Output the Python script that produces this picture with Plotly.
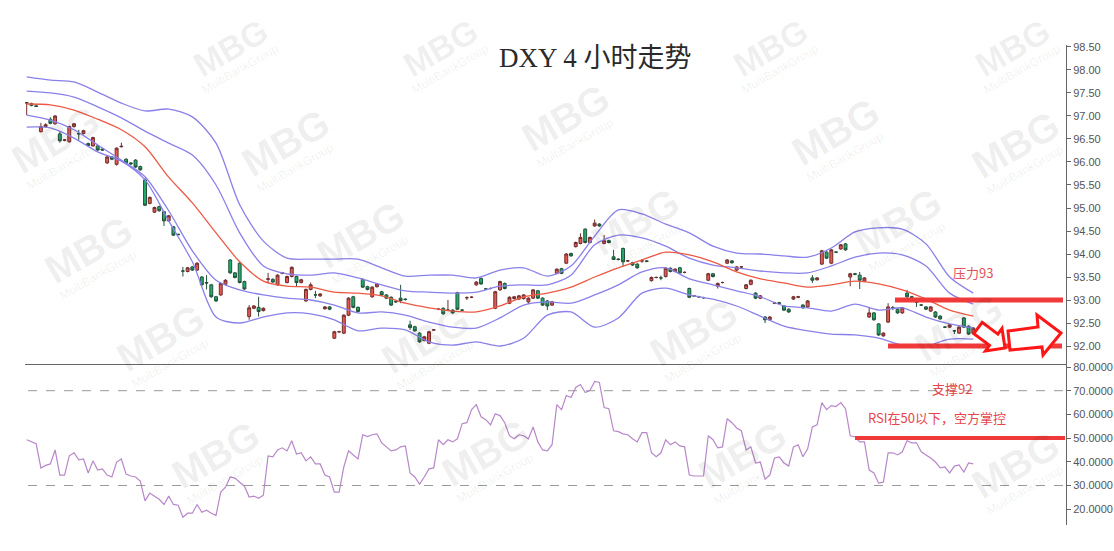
import plotly.graph_objects as go

# ---------------- data ----------------
title_text = "DXY 4 小时走势"

opens = [
    97.28, 97.27, 97.22, 96.66, 96.77, 96.93, 96.83, 96.61, 96.47, 96.44,
    96.77, 96.62, 96.62, 96.40, 96.35, 96.35, 96.28, 95.98, 96.11, 95.95,
    96.33, 96.06, 95.98, 96.04, 95.90, 95.61, 95.10, 94.91, 95.03, 94.92,
    94.72, 94.59, 94.43, 93.63, 93.62, 93.72, 93.65, 93.50, 93.38, 93.33,
    93.07, 93.11, 93.34, 93.87, 93.59, 93.80, 93.40, 92.64, 92.82, 92.84,
    92.77, 93.45, 93.45, 93.33, 93.58, 93.38, 93.51, 93.51, 93.38, 92.98,
    93.23, 93.11, 93.09, 92.81, 92.85, 92.17, 92.31, 92.28, 92.67, 93.07,
    92.84, 93.45, 93.29, 93.07, 93.29, 93.18, 93.11, 93.06, 92.97, 93.04,
    93.02, 92.46, 92.42, 92.28, 92.12, 92.06, 92.35, 92.80, 92.82, 92.78,
    92.78, 93.16, 92.78, 93.05, 93.06, 93.33, 93.47, 93.24, 93.25, 92.82,
    93.22, 93.36, 92.93, 93.03, 93.02, 93.03, 92.96, 93.04, 93.20, 93.04,
    92.98, 92.89, 93.58, 93.68, 93.80, 94.01, 94.16, 94.23, 94.54, 94.25,
    94.61, 94.65, 94.23, 94.29, 93.94, 93.89, 94.12, 93.85, 93.81, 93.78,
    93.85, 93.85, 93.42, 93.49, 93.48, 93.51, 93.69, 93.62, 93.70, 93.60,
    93.25, 93.09, 93.07, 93.05, 93.43, 93.57, 93.30, 93.38, 93.80, 93.85,
    93.65, 93.72, 93.25, 93.34, 93.15, 93.04, 92.63, 92.57, 92.93, 92.94,
    92.87, 92.80, 93.02, 93.06, 92.89, 92.85, 93.48, 93.44, 93.78, 94.04,
    93.80, 94.04, 94.11, 94.22, 93.50, 93.57, 93.54, 93.41, 92.63, 92.72,
    92.48, 92.22, 92.52, 92.83, 92.80, 92.72, 93.15, 93.07, 92.96, 92.89,
    92.85, 92.76, 92.74, 92.65, 92.41, 92.41, 92.33, 92.28, 92.61, 92.43,
    92.28,
]
highs = [
    97.30, 97.29, 97.23, 96.85, 96.84, 96.97, 97.02, 96.67, 96.50, 96.79,
    96.85, 96.70, 96.70, 96.42, 96.55, 96.37, 96.30, 96.13, 96.13, 96.32,
    96.42, 96.08, 96.00, 96.06, 95.92, 95.65, 95.25, 95.03, 95.05, 94.94,
    94.85, 94.61, 94.44, 93.72, 93.72, 93.74, 93.82, 93.52, 93.54, 93.35,
    93.09, 93.38, 93.45, 93.89, 93.61, 93.82, 93.42, 92.89, 92.89, 93.07,
    92.84, 93.59, 93.47, 93.56, 93.61, 93.53, 93.73, 93.53, 93.46, 93.25,
    93.38, 93.20, 93.15, 92.87, 92.87, 92.33, 92.33, 92.69, 93.06, 93.09,
    92.86, 93.47, 93.31, 93.30, 93.37, 93.20, 93.13, 93.08, 92.99, 93.33,
    93.04, 92.55, 92.44, 92.30, 92.22, 92.33, 92.37, 92.82, 92.84, 93.00,
    92.80, 93.18, 92.80, 93.08, 93.08, 93.41, 93.49, 93.26, 93.27, 93.20,
    93.42, 93.38, 93.08, 93.09, 93.11, 93.13, 93.06, 93.24, 93.22, 93.06,
    93.00, 92.98, 93.69, 93.70, 94.02, 94.03, 94.27, 94.45, 94.56, 94.38,
    94.75, 94.67, 94.41, 94.31, 94.09, 93.91, 94.14, 93.87, 93.83, 93.80,
    93.89, 93.87, 93.51, 93.51, 93.53, 93.71, 93.71, 93.69, 93.72, 93.62,
    93.27, 93.11, 93.09, 93.07, 93.59, 93.59, 93.38, 93.40, 93.89, 93.87,
    93.74, 93.74, 93.35, 93.45, 93.17, 93.11, 92.65, 92.65, 92.96, 92.96,
    92.89, 92.82, 93.09, 93.09, 92.91, 93.00, 93.54, 93.50, 94.09, 94.06,
    94.11, 94.06, 94.22, 94.24, 93.59, 93.59, 93.61, 93.50, 92.85, 92.74,
    92.50, 92.30, 92.93, 92.87, 92.82, 92.85, 93.22, 93.09, 93.00, 92.91,
    92.87, 92.87, 92.76, 92.67, 92.43, 92.48, 92.35, 92.43, 92.63, 92.45,
    92.41,
]
lows = [
    97.02, 97.21, 97.20, 96.64, 96.75, 96.82, 96.81, 96.42, 96.45, 96.42,
    96.75, 96.48, 96.60, 96.34, 96.33, 96.24, 96.24, 95.96, 96.04, 95.92,
    96.32, 95.96, 95.94, 95.87, 95.81, 95.04, 95.08, 94.89, 94.92, 94.61,
    94.70, 94.39, 94.41, 93.51, 93.60, 93.63, 93.63, 93.31, 93.23, 93.05,
    92.96, 93.09, 93.32, 93.57, 93.47, 93.36, 93.22, 92.57, 92.80, 92.64,
    92.75, 93.36, 93.37, 93.31, 93.56, 93.36, 93.49, 93.30, 93.36, 92.96,
    93.21, 93.04, 93.07, 92.79, 92.78, 92.15, 92.29, 92.26, 92.65, 92.82,
    92.73, 93.26, 93.21, 93.05, 93.27, 93.09, 93.02, 92.87, 92.94, 92.93,
    92.99, 92.35, 92.31, 92.07, 92.10, 92.04, 92.33, 92.78, 92.68, 92.76,
    92.70, 92.78, 92.76, 93.00, 93.04, 93.31, 93.33, 93.22, 93.23, 92.80,
    93.20, 93.23, 92.91, 93.01, 93.00, 93.01, 92.91, 93.02, 93.02, 92.87,
    92.78, 92.87, 93.56, 93.56, 93.78, 93.94, 94.14, 94.21, 94.23, 94.23,
    94.59, 94.59, 94.21, 94.23, 93.87, 93.86, 93.72, 93.83, 93.74, 93.68,
    93.81, 93.82, 93.40, 93.47, 93.43, 93.49, 93.60, 93.60, 93.57, 93.58,
    93.04, 93.07, 93.05, 93.03, 93.41, 93.49, 93.25, 93.36, 93.78, 93.79,
    93.63, 93.70, 93.23, 93.32, 93.02, 93.02, 92.50, 92.55, 92.91, 92.91,
    92.76, 92.72, 93.00, 93.04, 92.81, 92.83, 93.37, 93.42, 93.76, 93.89,
    93.78, 94.02, 94.09, 94.07, 93.30, 93.54, 93.24, 93.39, 92.61, 92.55,
    92.22, 92.20, 92.50, 92.78, 92.70, 92.70, 93.05, 93.04, 92.85, 92.87,
    92.78, 92.74, 92.61, 92.57, 92.39, 92.39, 92.26, 92.26, 92.39, 92.24,
    92.26,
]
closes = [
    97.29, 97.23, 97.21, 96.77, 96.81, 96.84, 97.00, 96.46, 96.48, 96.77,
    96.83, 96.61, 96.68, 96.36, 96.53, 96.26, 96.26, 96.11, 96.06, 96.30,
    96.34, 95.98, 95.96, 95.89, 95.83, 95.06, 95.23, 95.01, 94.94, 94.72,
    94.83, 94.41, 94.42, 93.63, 93.70, 93.65, 93.80, 93.33, 93.37, 93.07,
    92.98, 93.36, 93.43, 93.59, 93.49, 93.38, 93.24, 92.83, 92.87, 92.75,
    92.82, 93.46, 93.39, 93.54, 93.59, 93.51, 93.71, 93.38, 93.44, 93.23,
    93.33, 93.11, 93.13, 92.85, 92.80, 92.31, 92.31, 92.67, 93.04, 92.84,
    92.75, 93.28, 93.23, 93.28, 93.35, 93.11, 93.04, 92.89, 92.96, 92.99,
    93.01, 92.40, 92.33, 92.09, 92.20, 92.31, 92.35, 92.80, 92.70, 92.78,
    92.72, 92.80, 92.78, 93.05, 93.06, 93.39, 93.35, 93.24, 93.25, 93.18,
    93.40, 93.25, 93.06, 93.07, 93.09, 93.11, 93.04, 93.22, 93.04, 92.89,
    92.87, 92.96, 93.67, 93.58, 94.00, 93.96, 94.25, 94.36, 94.25, 94.36,
    94.67, 94.61, 94.29, 94.25, 93.88, 93.88, 93.83, 93.85, 93.76, 93.70,
    93.85, 93.84, 93.49, 93.49, 93.48, 93.69, 93.62, 93.67, 93.59, 93.60,
    93.06, 93.09, 93.07, 93.05, 93.57, 93.51, 93.36, 93.38, 93.87, 93.81,
    93.72, 93.72, 93.33, 93.43, 93.04, 93.09, 92.57, 92.63, 92.94, 92.93,
    92.78, 92.74, 93.07, 93.07, 92.83, 92.98, 93.43, 93.48, 94.07, 93.91,
    94.09, 94.04, 94.20, 94.09, 93.57, 93.56, 93.43, 93.48, 92.72, 92.57,
    92.24, 92.28, 92.85, 92.83, 92.72, 92.83, 93.07, 93.06, 92.95, 92.89,
    92.80, 92.85, 92.63, 92.59, 92.41, 92.46, 92.33, 92.41, 92.41, 92.26,
    92.39,
]

# Bollinger-style bands, read every 5th bar
band_idx = list(range(0, 201, 5))
upper_outer = [97.85, 97.78, 97.74, 97.52, 97.28, 97.11, 97.15, 96.98, 96.41, 95.07,
               94.28, 93.91, 93.89, 93.89, 93.89, 93.70, 93.52, 93.54, 93.54, 93.48,
               93.65, 93.70, 93.52, 93.74, 94.39, 94.96, 94.87, 94.65, 94.46, 94.17,
               94.02, 94.00, 93.96, 93.93, 94.13, 94.48, 94.57, 94.54, 94.22, 93.50,
               93.15]
upper_inner = [97.54, 97.50, 97.41, 97.20, 96.96, 96.67, 96.41, 96.15, 95.50, 94.46,
               93.74, 93.57, 93.54, 93.59, 93.48, 93.33, 93.20, 93.17, 93.15, 93.17,
               93.30, 93.33, 93.33, 93.54, 94.20, 94.41, 94.35, 94.17, 93.91, 93.76,
               93.70, 93.63, 93.59, 93.59, 93.74, 93.93, 94.02, 93.98, 93.74, 93.15,
               92.91]
middle = [97.26, 97.24, 97.13, 96.93, 96.70, 96.33, 95.67, 95.11, 94.46, 93.83,
          93.41, 93.30, 93.28, 93.17, 93.15, 93.09, 92.93, 92.83, 92.76, 92.74,
          92.87, 93.07, 93.15, 93.28, 93.50, 93.70, 93.87, 94.04, 93.98, 93.83,
          93.61, 93.46, 93.37, 93.28, 93.33, 93.41, 93.35, 93.22, 93.02, 92.78,
          92.65]
lower_inner = [97.02, 96.91, 96.70, 96.37, 96.04, 95.68, 94.94, 94.07, 93.43, 93.22,
               93.11, 93.04, 93.00, 92.89, 92.72, 92.74, 92.67, 92.52, 92.41, 92.39,
               92.61, 92.89, 92.96, 92.93, 93.11, 93.33, 93.61, 93.70, 93.46, 93.33,
               93.20, 93.07, 92.87, 92.83, 92.76, 92.91, 92.78, 92.83, 92.63, 92.48,
               92.39]
lower_outer = [96.76, 96.74, 96.52, 96.22, 96.02, 95.61, 94.72, 93.83, 92.63, 92.50,
               92.63, 92.72, 92.70, 92.57, 92.33, 92.39, 92.35, 92.09, 92.02, 92.09,
               92.00, 92.17, 92.67, 92.74, 92.41, 92.61, 93.15, 93.26, 93.11, 93.02,
               92.87, 92.65, 92.43, 92.33, 92.26, 92.24, 92.17, 92.02, 92.00, 92.15,
               92.15]

rsi = [
    49.3, 48.4, 47.6, 37.4, 38.5, 39.1, 45.0, 34.4, 34.4, 42.5,
    43.8, 40.8, 41.2, 35.3, 40.4, 36.5, 37.0, 34.4, 33.6, 39.9,
    41.2, 34.8, 34.0, 33.6, 31.9, 23.5, 26.8, 25.5, 24.2, 22.0,
    25.5, 22.0, 21.7, 16.6, 18.3, 18.3, 22.0, 18.7, 19.6, 18.3,
    17.4, 27.2, 29.3, 33.6, 33.1, 31.4, 29.7, 25.1, 25.5, 24.6,
    25.9, 42.5, 42.1, 45.0, 45.9, 44.6, 48.9, 43.3, 43.8, 40.4,
    42.1, 39.1, 39.1, 34.4, 33.6, 27.2, 27.2, 37.8, 44.6, 42.9,
    41.2, 51.4, 50.6, 51.4, 51.8, 48.0, 46.3, 44.6, 45.0, 46.3,
    46.7, 35.3, 33.6, 30.6, 33.6, 37.0, 37.4, 49.3, 47.2, 49.3,
    48.4, 49.7, 56.1, 56.5, 62.0, 64.1, 59.0, 57.8, 55.6, 60.3,
    59.5, 56.5, 51.0, 49.7, 51.4, 51.0, 49.7, 54.7, 48.4, 45.0,
    44.6, 47.2, 64.1, 62.0, 68.0, 67.1, 71.4, 72.6, 69.2, 70.1,
    73.9, 73.5, 62.9, 62.4, 53.1, 52.7, 51.8, 51.4, 49.7, 48.4,
    52.3, 52.3, 43.8, 42.1, 43.8, 49.3, 47.2, 48.4, 46.7, 46.3,
    34.4, 34.0, 34.0, 34.0, 51.0, 49.3, 45.9, 46.3, 58.2, 56.5,
    54.3, 53.1, 45.0, 46.3, 39.5, 39.9, 32.7, 34.4, 41.6, 42.1,
    39.5, 38.2, 46.3, 47.2, 42.1, 45.5, 54.7, 55.6, 65.0, 62.0,
    63.7, 63.3, 65.0, 62.4, 51.0, 50.6, 48.4, 48.4, 36.5, 35.3,
    31.0, 31.4, 43.8, 43.8, 42.9, 44.2, 48.9, 48.0, 48.0, 44.2,
    42.9, 41.6, 39.9, 37.4, 37.8, 35.3, 38.2, 38.7, 35.7, 39.5,
    39.1,
]

price_ticks = [92.0, 92.5, 93.0, 93.5, 94.0, 94.5, 95.0, 95.5, 96.0, 96.5, 97.0, 97.5, 98.0, 98.5]
rsi_ticks = [20, 30, 40, 50, 60, 70, 80]
resistance_level = 93
support_level = 92
rsi_mid_level = 50
rsi_upper_level = 70
rsi_lower_level = 30
label_resistance = "压力93"
label_support = "支撑92"
label_rsi = "RSI在50以下，空方掌控"
watermark_big = "MBG"
watermark_small = "MultiBankGroup"

# ---------------- layout geometry (page pixels) ----------------
W, H = 1114, 551
PL, PR, PT, PB = 25, 1066, 45, 525          # plot-area edges
ML, MT, MR, MB = PL, PT, W - PR, H - PB
PW, PH = PR - PL, PB - PT
SPLIT = (PB - 364) / PH


def pxx(x):
    return (x - PL) / PW


def pxy(y):
    return (PB - y) / PH


idx = list(range(len(closes)))
BAR_STEP = 4.733
FIRST_BAR_X = 26.7

fig = go.Figure()

fig.add_trace(go.Candlestick(
    x=idx, open=opens, high=highs, low=lows, close=closes,
    increasing=dict(fillcolor="#e9574f", line=dict(color="#6e2e2c", width=1)),
    decreasing=dict(fillcolor="#1fae6d", line=dict(color="#24503a", width=1)),
    whiskerwidth=0, xaxis="x", yaxis="y", hoverinfo="skip",
))

band_style = dict(color="#8a80ea", width=1.3)
for arr in (upper_outer, upper_inner, lower_inner, lower_outer):
    fig.add_trace(go.Scatter(x=band_idx, y=arr, mode="lines",
                             line=dict(**band_style, shape="spline", smoothing=0.8),
                             xaxis="x", yaxis="y", hoverinfo="skip"))
fig.add_trace(go.Scatter(x=band_idx, y=middle, mode="lines",
                         line=dict(color="#ec5a45", width=1.3, shape="spline", smoothing=0.8),
                         xaxis="x", yaxis="y", hoverinfo="skip"))

fig.add_trace(go.Scatter(x=list(range(len(rsi))), y=rsi, mode="lines",
                         line=dict(color="#b887c9", width=1.2),
                         xaxis="x2", yaxis="y2", hoverinfo="skip"))

tickfont = dict(family="Liberation Sans, Arial, sans-serif", size=11, color="#555555")
xr = [(PL - FIRST_BAR_X) / BAR_STEP, (PR - FIRST_BAR_X) / BAR_STEP]

fig.update_layout(
    width=W, height=H, margin=dict(l=ML, r=MR, t=MT, b=MB, autoexpand=False),
    paper_bgcolor="white", plot_bgcolor="white", showlegend=False,
    boxgap=0.12, hovermode=False,
    xaxis=dict(domain=[0, 1], anchor="y", range=xr, showgrid=False, zeroline=False,
               showticklabels=False, ticks="", showline=True, linecolor="#666666", linewidth=1,
               rangeslider=dict(visible=False)),
    yaxis=dict(domain=[SPLIT, 1], anchor="x", side="right", range=[91.609, 98.543],
               tickvals=price_ticks, tickformat=".2f", showgrid=False, zeroline=False,
               showline=True, linecolor="#666666", linewidth=1, ticks="outside", ticklen=4,
               tickcolor="#666666", tickfont=tickfont),
    xaxis2=dict(domain=[0, 1], anchor="y2", matches="x", showgrid=False, zeroline=False,
                showticklabels=False, ticks="", showline=False),
    yaxis2=dict(domain=[0, SPLIT], anchor="x2", side="right", range=[13.33, 81.27],
                tickvals=rsi_ticks, tickformat=".4f", showgrid=False, zeroline=False,
                showline=True, linecolor="#666666", linewidth=1, ticks="outside", ticklen=4,
                tickcolor="#666666", tickfont=tickfont),
)

shapes = []
for lvl in (rsi_upper_level, rsi_lower_level):
    shapes.append(dict(type="line", xref="paper", yref="y2", x0=pxx(28), x1=1, y0=lvl, y1=lvl,
                       line=dict(color="#9a9a9a", width=1, dash="dash")))
red = "#f03a3a"
shapes.append(dict(type="line", xref="paper", yref="y", x0=pxx(895), x1=pxx(1063),
                   y0=resistance_level, y1=resistance_level, line=dict(color=red, width=5)))
shapes.append(dict(type="line", xref="paper", yref="y", x0=pxx(888), x1=pxx(1062),
                   y0=support_level, y1=support_level, line=dict(color=red, width=5)))
shapes.append(dict(type="line", xref="paper", yref="y2", x0=pxx(855), x1=pxx(1065),
                   y0=rsi_mid_level, y1=rsi_mid_level, line=dict(color=red, width=4)))


def path_from(points):
    pts = [(pxx(x), pxy(y)) for x, y in points]
    s = "M {:.5f} {:.5f} ".format(*pts[0])
    for p in pts[1:]:
        s += "L {:.5f} {:.5f} ".format(*p)
    return s + "Z"


arrow_down = [(973.8, 333.6), (982.2, 322.4), (997.9, 334.1), (1002.0, 328.4),
              (1005.0, 348.0), (985.4, 351.0), (989.5, 345.3)]
arrow_right = [(1008, 331), (1038, 327), (1037, 315), (1061, 333), (1043, 355), (1042, 347), (1010, 350)]
for a in (arrow_down, arrow_right):
    shapes.append(dict(type="path", xref="paper", yref="paper", path=path_from(a),
                       fillcolor="white", line=dict(color="#ff1616", width=3)))
fig.update_layout(shapes=shapes)

# faint tiled watermark (page-pixel centre, font size), kept fully inside the canvas
wm_marks = [
    (230, 48, 34), (440, 48, 34), (770, 48, 34), (1012, 48, 34),
    (55, 140, 40), (285, 143, 40), (565, 118, 40), (835, 132, 40), (1015, 145, 40),
    (88, 250, 40), (360, 235, 40), (635, 222, 40), (897, 222, 40),
    (160, 338, 40), (425, 340, 40), (693, 333, 40), (958, 328, 40),
    (215, 455, 40), (485, 453, 40), (742, 455, 40), (1015, 465, 40),
]
ann = []
wm_col = "rgba(0,0,0,0.07)"
for cx, cy, fs in wm_marks:
    ann.append(dict(text="<b>%s</b>" % watermark_big, x=pxx(cx), y=pxy(cy), xref="paper", yref="paper",
                    showarrow=False, xanchor="center", yanchor="middle", textangle=-30,
                    font=dict(family="Liberation Sans, Arial, sans-serif", size=fs, color=wm_col)))
    ann.append(dict(text=watermark_small, x=pxx(cx + 10), y=pxy(cy + 0.62 * fs), xref="paper", yref="paper",
                    showarrow=False, xanchor="center", yanchor="middle", textangle=-30,
                    font=dict(family="Liberation Sans, Arial, sans-serif", size=12, color=wm_col)))

cjk = "Noto Sans CJK SC, sans-serif"
ann += [
    dict(text=title_text, x=pxx(595), y=pxy(58), xref="paper", yref="paper", showarrow=False,
         xanchor="center", yanchor="middle",
         font=dict(family="Liberation Serif, Noto Sans CJK SC, serif", size=27, color="#2a2a2a")),
    dict(text=label_resistance, x=pxx(973), y=pxy(272), xref="paper", yref="paper", showarrow=False,
         xanchor="center", yanchor="middle", font=dict(family=cjk, size=13, color="#e2505a")),
    dict(text=label_support, x=pxx(952), y=pxy(388), xref="paper", yref="paper", showarrow=False,
         xanchor="center", yanchor="middle", font=dict(family=cjk, size=13, color="#e5464b")),
    dict(text=label_rsi, x=pxx(937), y=pxy(417), xref="paper", yref="paper", showarrow=False,
         xanchor="center", yanchor="middle", font=dict(family=cjk, size=13, color="#e5464b")),
]
fig.update_layout(annotations=ann)

# remove the default page margin so the figure sits exactly in the window
fig.write_html("out.html", config={"displayModeBar": False},
               post_script="document.body.style.margin='0';document.body.style.overflow='hidden';")
